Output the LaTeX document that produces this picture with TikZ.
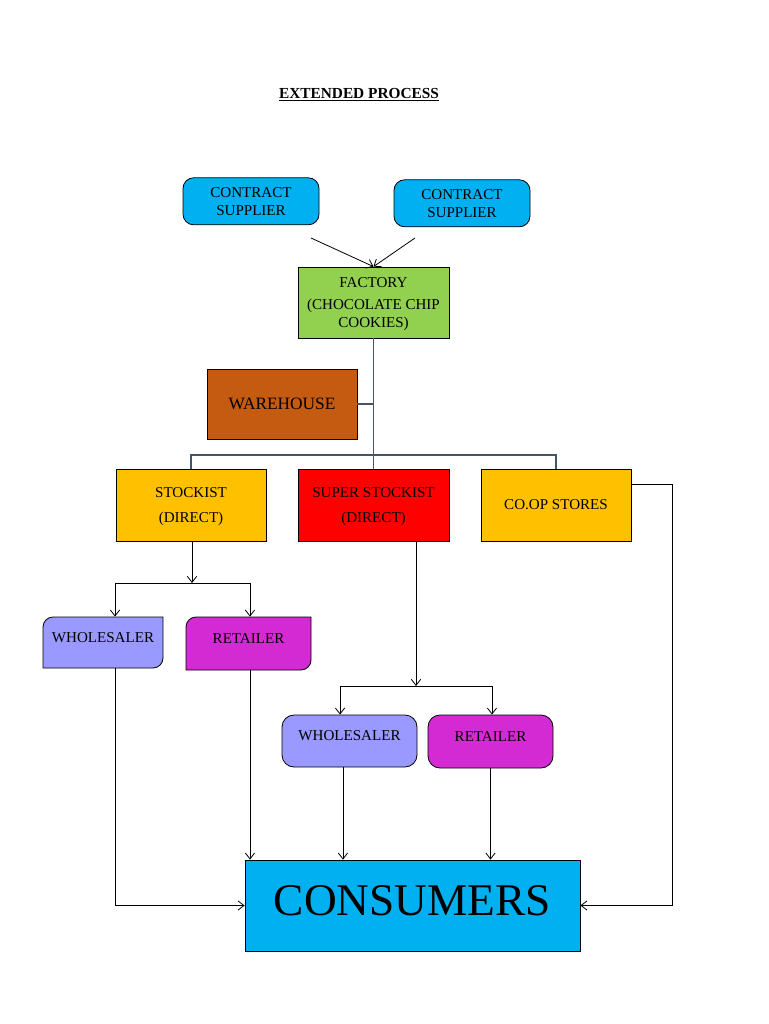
\documentclass[tikz,border=0pt]{standalone}
\usepackage{fontspec}
\setmainfont{Liberation Serif}
\usetikzlibrary{arrows.meta}
\definecolor{cyanb}{HTML}{00B0F0}
\definecolor{greenb}{HTML}{92D050}
\definecolor{brownb}{HTML}{C55A11}
\definecolor{yellowb}{HTML}{FFC000}
\definecolor{redb}{HTML}{FF0000}
\definecolor{lavb}{HTML}{9999FF}
\definecolor{magb}{HTML}{D42AD4}
\definecolor{treegray}{HTML}{44546A}
\newcommand{\normfnt}{\fontsize{11.3}{13.5}\selectfont}
\begin{document}
\begin{tikzpicture}[x=0.75pt,y=-0.75pt,
  box/.style 2 args={draw=black, line width=0.6pt, inner sep=0pt,
    minimum width=#1*0.75pt, minimum height=#2*0.75pt, align=center, font=\normfnt},
  shapeline/.style={draw=black, line width=0.6pt},
  tree/.style={draw=treegray, line width=0.9pt},
  arr/.style={draw=black, line width=0.6pt, -{Straight Barb[length=4.5pt,width=7pt]}}]
\useasboundingbox[fill=white] (0,0) rectangle (768,1024);

\node[font=\bfseries\fontsize{11.5}{14}\selectfont] (title) at (359,95) {\underline{EXTENDED PROCESS}};

\node[box={136}{47}, rounded corners=8pt, fill=cyanb, yshift=-0.6pt] (cs1) at (251,200.5) {CONTRACT\\SUPPLIER};
\node[box={136}{47}, rounded corners=8pt, fill=cyanb, yshift=-0.6pt] (cs2) at (462,202.5) {CONTRACT\\SUPPLIER};
\node[box={151}{71}, fill=greenb, text depth=-2pt] (fac) at (373.5,302.5) {FACTORY\\[3pt](CHOCOLATE CHIP\\COOKIES)};
\node[box={150}{70}, fill=brownb, font=\fontsize{13}{15}\selectfont] (wh) at (282,404) {WAREHOUSE};
\node[box={150}{72}, fill=yellowb, text depth=-2pt] (stk) at (191,505) {STOCKIST\\[5pt](DIRECT)};
\node[box={151}{72}, fill=redb, text depth=-2pt] (sup) at (373.5,505) {SUPER STOCKIST\\[5pt](DIRECT)};
\node[box={150}{72}, fill=yellowb] (coop) at (556,505) {CO.OP STORES};

% partly rounded boxes
\draw[shapeline, fill=lavb] (43,668) -- (43,627) .. controls (43,621.5) and (47.5,617) .. (53,617)
  -- (163,617) -- (163,658) .. controls (163,663.5) and (158.5,668) .. (153,668) -- cycle;
\draw[shapeline, fill=magb] (186,670) -- (186,627) .. controls (186,621.5) and (190.5,617) .. (196,617)
  -- (311,617) -- (311,660) .. controls (311,665.5) and (306.5,670) .. (301,670) -- cycle;
\node[box={120}{51}, draw=none, text depth=8pt] (w1) at (103,642.5) {WHOLESALER};
\node[box={125}{53}, draw=none, text depth=8pt] (r1) at (248.5,643.5) {RETAILER};

\node[box={135}{52}, rounded corners=9pt, fill=lavb, text depth=8pt] (w2) at (349.5,741) {WHOLESALER};
\node[box={125}{53}, rounded corners=9pt, fill=magb, text depth=8pt] (r2) at (490.5,741.5) {RETAILER};

\node[box={335}{91}, fill=cyanb, font=\fontsize{34}{40}\selectfont, text depth=8pt] (cons) at (412.5,905.5) {CONSUMERS};

% supplier arrows
\coordinate (c1) at (311,238);
\coordinate (c2) at (415,238);
\draw[arr] (c1) -- (fac.north);
\draw[arr] (c2) -- (fac.north);

% factory tree
\coordinate (bus) at (373.5,455);
\draw[tree] (fac.south) -- (sup.north);
\draw[tree] (wh.east) -- (wh.east -| fac.south);
\draw[tree] (stk.north) |- (bus) -| (coop.north);

% stockist branch
\coordinate (s1) at (192,583);
\draw[arr] (s1 |- stk.south) -- (s1);
\draw[arr] (s1) -| ([xshift=9pt]w1.north);
\draw[arr] (s1) -| ([xshift=1.1pt]r1.north);

% super stockist branch
\coordinate (s2) at (416,686);
\draw[arr] (s2 |- sup.south) -- (s2);
\draw[arr] (s2) -| ([xshift=-7.1pt]w2.north);
\draw[arr] (s2) -| ([xshift=1.1pt]r2.north);

% to consumers
\draw[arr] ([xshift=9pt]w1.south) |- (cons.west);
\draw[arr] ([xshift=1.1pt]r1.south) -- ([xshift=1.1pt]r1.south |- cons.north);
\draw[arr] ([xshift=-4.9pt]w2.south) -- ([xshift=-4.9pt]w2.south |- cons.north);
\draw[arr] (r2.south) -- (r2.south |- cons.north);
\coordinate (cr) at (672,484);
\draw[arr] (coop.east |- cr) -- (cr) |- (cons.east);
\end{tikzpicture}
\end{document}
